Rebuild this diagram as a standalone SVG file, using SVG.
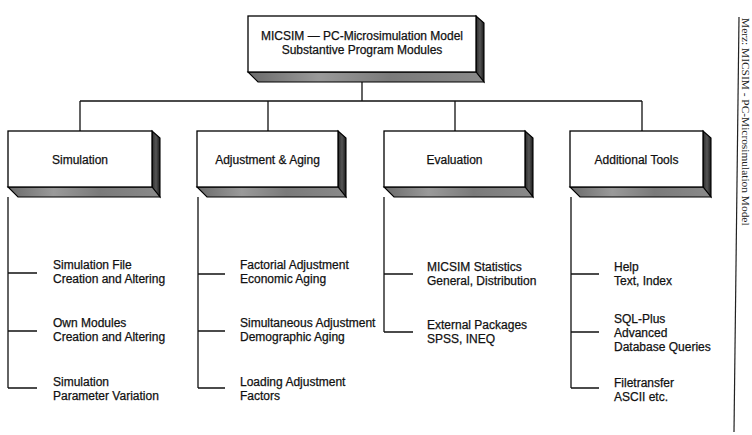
<svg xmlns="http://www.w3.org/2000/svg" width="752" height="435" viewBox="0 0 752 435">
<defs>
<linearGradient id="side" x1="0" y1="0" x2="1" y2="0">
<stop offset="0" stop-color="#2a2a2a"/><stop offset="0.5" stop-color="#555"/><stop offset="1" stop-color="#1a1a1a"/>
</linearGradient>
<linearGradient id="bottom" x1="0" y1="0" x2="1" y2="0">
<stop offset="0" stop-color="#6a6a6a"/><stop offset="0.3" stop-color="#9a9a9a"/><stop offset="0.6" stop-color="#7a7a7a"/><stop offset="1" stop-color="#8a8a8a"/>
</linearGradient>
<style>
.front{fill:#fff;stroke:#000;stroke-width:1.3}
.side{fill:url(#side);stroke:#000;stroke-width:1.1}
.bot{fill:url(#bottom);stroke:#000;stroke-width:1.1}
.t{font-family:"Liberation Sans",Arial,sans-serif;font-size:12px;fill:#111;stroke:#111;stroke-width:0.25}
.c{text-anchor:middle}
.ln{stroke:#111;stroke-width:1.3;fill:none}
.spine{font-family:"Liberation Serif","Times New Roman",serif;font-size:11.4px;fill:#222}
</style>
</defs>
<rect width="752" height="435" fill="#fff"/>
<g id="connectors">
<path class="ln" d="M362,82 V101 M80,101 H642 M80,101 V131 M268,101 V131 M455,101 V131 M642,101 V131"/>
<path class="ln" d="M8,197 V388 M8,273 H37 M8,331 H37 M8,388 H37"/>
<path class="ln" d="M198,197 V388 M198,274 H225 M198,331 H225 M198,388 H225"/>
<path class="ln" d="M384,197 V332 M384,274 H413 M384,332 H413"/>
<path class="ln" d="M571,197 V388 M571,274 H599 M571,332 H599 M571,388 H599"/>
</g>
<g id="root">
<polygon class="side" points="476,16 484,23 484,82 476,72"/>
<polygon class="bot" points="248,72 476,72 484,82 258,82"/>
<rect class="front" x="248" y="16" width="228" height="56"/>
<text class="t c" x="362" y="40">MICSIM — PC-Microsimulation Model</text>
<text class="t c" x="362" y="54">Substantive Program Modules</text>
</g>
<g id="simulation">
<polygon class="side" points="152,131 160,138 160,197 152,187"/>
<polygon class="bot" points="8,187 152,187 160,197 18,197"/>
<rect class="front" x="8" y="131" width="144" height="56"/>
<text class="t c" x="80" y="164">Simulation</text>
</g>
<g id="adjustment">
<polygon class="side" points="338,131 346,138 346,197 338,187"/>
<polygon class="bot" points="197,187 338,187 346,197 207,197"/>
<rect class="front" x="197" y="131" width="141" height="56"/>
<text class="t c" x="267.5" y="164">Adjustment &amp; Aging</text>
</g>
<g id="evaluation">
<polygon class="side" points="525,131 533,138 533,197 525,187"/>
<polygon class="bot" points="384,187 525,187 533,197 394,197"/>
<rect class="front" x="384" y="131" width="141" height="56"/>
<text class="t c" x="454.5" y="164">Evaluation</text>
</g>
<g id="tools">
<polygon class="side" points="703,131 711,138 711,197 703,187"/>
<polygon class="bot" points="570,187 703,187 711,197 580,197"/>
<rect class="front" x="570" y="131" width="133" height="56"/>
<text class="t c" x="636.5" y="164">Additional Tools</text>
</g>
<g id="sim-items">
<text class="t" x="53" y="269">Simulation File</text>
<text class="t" x="53" y="283">Creation and Altering</text>
<text class="t" x="53" y="327">Own Modules</text>
<text class="t" x="53" y="341">Creation and Altering</text>
<text class="t" x="53" y="386">Simulation</text>
<text class="t" x="53" y="400">Parameter Variation</text>
</g>
<g id="adj-items">
<text class="t" x="240" y="269">Factorial Adjustment</text>
<text class="t" x="240" y="283">Economic Aging</text>
<text class="t" x="240" y="327">Simultaneous Adjustment</text>
<text class="t" x="240" y="341">Demographic Aging</text>
<text class="t" x="240" y="386">Loading Adjustment</text>
<text class="t" x="240" y="400">Factors</text>
</g>
<g id="eval-items">
<text class="t" x="427" y="271">MICSIM Statistics</text>
<text class="t" x="427" y="285">General, Distribution</text>
<text class="t" x="427" y="329">External Packages</text>
<text class="t" x="427" y="343">SPSS, INEQ</text>
</g>
<g id="tool-items">
<text class="t" x="614" y="271">Help</text>
<text class="t" x="614" y="285">Text, Index</text>
<text class="t" x="614" y="323">SQL-Plus</text>
<text class="t" x="614" y="337">Advanced</text>
<text class="t" x="614" y="351">Database Queries</text>
<text class="t" x="614" y="387">Filetransfer</text>
<text class="t" x="614" y="401">ASCII etc.</text>
</g>
<g id="margin">
<line x1="739" y1="17" x2="734" y2="432" stroke="#222" stroke-width="1.2"/>
<text class="spine" transform="translate(742,18) rotate(90)">Merz: MICSIM - PC-Microsimulation Model</text>
</g>
</svg>
